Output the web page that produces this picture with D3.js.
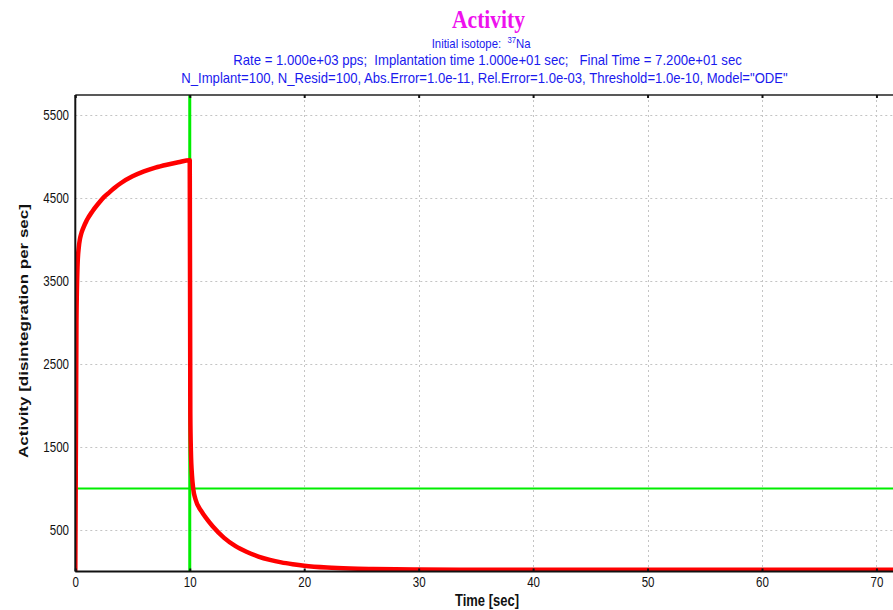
<!DOCTYPE html>
<html>
<head>
<meta charset="utf-8">
<script src="https://cdn.jsdelivr.net/npm/d3@7"></script>
<style>
  body { margin: 0; background: #ffffff; }
  svg { display: block; }
</style>
</head>
<body>
<svg id="chart" width="893" height="610"></svg>
<script>
// Total activity while the beam is on (implantation phase)
const timeOn     = [0, 0.1, 0.2, 0.3, 0.4, 0.5, 0.7, 1.0, 1.5, 2.0, 2.5, 3.0, 3.5, 4.0, 5.0, 6.0, 7.0, 8.0, 9.0, 10.0];
const activityOn = [0, 3000, 3700, 3900, 4000, 4060, 4140, 4230, 4340, 4430, 4510, 4570, 4630, 4680, 4760, 4820, 4865, 4900, 4930, 4955];

// Total activity after the beam is switched off (residual decay)
const timeOff     = [10.05, 10.1, 10.2, 10.3, 10.5, 11, 11.5, 12, 13, 14, 15, 16, 17, 18, 19, 20, 22, 24, 26, 28, 30, 35, 40, 45, 50, 55, 60, 65, 72];
const activityOff = [1900, 1450, 1150, 1000, 870, 730, 630, 545, 405, 305, 235, 180, 140, 110, 88, 70, 48, 36, 30, 26, 24, 22, 21, 21, 21, 20, 20, 20, 20];

// Marker lines: end of implantation and reference activity level
const markerTime = [10];
const markerActivity = [1000];

// Axis ticks
const xTicks = [0, 10, 20, 30, 40, 50, 60, 70];
const yTicks = [500, 1500, 2500, 3500, 4500, 5500];

// Texts
const titleText = "Activity";
const isotopePrefix = "Initial isotope:  ";
const isotopeMass = "37";
const isotopeName = "Na";
const rateLine = "Rate = 1.000e+03 pps;  Implantation time 1.000e+01 sec;   Final Time = 7.200e+01 sec";
const paramLine = "N_Implant=100, N_Resid=100, Abs.Error=1.0e-11, Rel.Error=1.0e-03, Threshold=1.0e-10, Model=\"ODE\"";
const xTitle = "Time [sec]";
const yTitle = "Activity [disintegration per sec]";

const svg = d3.select("#chart");
const plotLeft = 75.3, plotTop = 95, plotBottom = 571.5;
const x = d3.scaleLinear().domain([0, 72]).range([plotLeft, plotLeft + 72 * 11.445]);
const y = d3.scaleLinear().domain([0, 5740]).range([plotBottom, plotTop]);
const plotRight = x.range()[1];

const SANS = "'Liberation Sans', Arial, sans-serif";
const SERIF = "'Liberation Serif', 'Times New Roman', serif";
const NARROW = 0.77;

svg.append("defs").append("clipPath").attr("id", "plotClip")
  .append("rect").attr("x", plotLeft).attr("y", plotTop)
  .attr("width", plotRight - plotLeft).attr("height", plotBottom - plotTop);

// grid
const grid = svg.append("g").attr("stroke", "#c4c4c4").attr("stroke-width", 1).attr("stroke-dasharray", "2,3");
grid.selectAll("line.h").data(yTicks).join("line").attr("class", "h")
  .attr("x1", plotLeft).attr("x2", plotRight)
  .attr("y1", d => Math.round(y(d)) + 0.5).attr("y2", d => Math.round(y(d)) + 0.5);
grid.selectAll("line.v").data(xTicks.filter(d => d > 0)).join("line").attr("class", "v")
  .attr("y1", plotTop).attr("y2", plotBottom)
  .attr("x1", d => Math.round(x(d)) + 0.5).attr("x2", d => Math.round(x(d)) + 0.5);

// green markers
const markers = svg.append("g").attr("clip-path", "url(#plotClip)").attr("stroke", "#00ee00");
markers.selectAll("line.t").data(markerTime).join("line").attr("class", "t")
  .attr("x1", d => x(d)).attr("x2", d => x(d)).attr("y1", plotTop).attr("y2", plotBottom)
  .attr("stroke-width", 3);
markers.selectAll("line.a").data(markerActivity).join("line").attr("class", "a")
  .attr("x1", plotLeft).attr("x2", plotRight).attr("y1", d => y(d)).attr("y2", d => y(d))
  .attr("stroke-width", 2);

// activity curve
const points = timeOn.map((t, i) => [t, activityOn[i]])
  .concat(timeOff.map((t, i) => [t, activityOff[i]]));
svg.append("path")
  .datum(points)
  .attr("clip-path", "url(#plotClip)")
  .attr("fill", "none")
  .attr("stroke", "#ff0000")
  .attr("stroke-width", 4.5)
  .attr("stroke-linejoin", "round")
  .attr("d", d3.line().x(d => x(d[0])).y(d => y(d[1])).curve(d3.curveMonotoneX));

// axes
const xAxis = svg.append("g").attr("transform", `translate(0,${plotBottom})`)
  .call(d3.axisBottom(x).tickValues(xTicks).tickSize(-3).tickFormat(d3.format("d")));
xAxis.select(".domain").attr("stroke", "#111").attr("stroke-width", 2).attr("d", `M${plotLeft},0H${plotRight}`);
xAxis.selectAll(".tick line").attr("stroke", "#111").attr("stroke-width", 2);
xAxis.selectAll("text").attr("y", 0).attr("dy", null)
  .attr("transform", `translate(0,15) scale(${NARROW},1)`)
  .attr("font-family", SANS).attr("font-size", 15).attr("fill", "#111");

const topAxis = svg.append("g").attr("transform", `translate(0,${plotTop})`)
  .call(d3.axisTop(x).tickValues(xTicks).tickSize(-3).tickFormat(""));
topAxis.select(".domain").attr("stroke", "#222").attr("stroke-width", 1.5).attr("d", `M${plotLeft},0H${plotRight}`);
topAxis.selectAll(".tick line").attr("stroke", "#111").attr("stroke-width", 2);

const yAxis = svg.append("g").attr("transform", `translate(${plotLeft},0)`)
  .call(d3.axisLeft(y).tickValues(yTicks).tickSize(0).tickFormat(d3.format("d")));
yAxis.select(".domain").attr("stroke", "#111").attr("stroke-width", 2).attr("d", `M0,${plotTop}V${plotBottom}`);
yAxis.selectAll("text").attr("x", 0)
  .attr("transform", `translate(-6.3,0) scale(${NARROW},1)`)
  .attr("font-family", SANS).attr("font-size", 15).attr("fill", "#111");

// stretch a text horizontally to a given width
function fit(sel, width, tx, ty) {
  const w = sel.node().getBBox().width;
  sel.attr("transform", `translate(${tx},${ty}) scale(${width / w},1)`);
}

// titles
const title = svg.append("text").text(titleText)
  .attr("text-anchor", "middle").attr("font-family", SERIF).attr("font-weight", "bold")
  .attr("font-size", 26).attr("fill", "#ee11ee");
fit(title, 73, 488.5, 28);

const iso = svg.append("text").attr("font-family", SANS).attr("font-size", 12.5).attr("fill", "#1a1aee")
  .style("white-space", "pre");
iso.append("tspan").text(isotopePrefix);
iso.append("tspan").text(isotopeMass).attr("font-size", 8.5).attr("dy", -5);
iso.append("tspan").text(isotopeName).attr("dy", 5);
fit(iso, 99, 431.7, 47.5);

const rate = svg.append("text").text(rateLine)
  .attr("text-anchor", "middle").attr("font-family", SANS).attr("font-size", 14).attr("fill", "#1a1aee")
  .style("white-space", "pre");
fit(rate, 509, 487.5, 65);

const params = svg.append("text").text(paramLine)
  .attr("text-anchor", "middle").attr("font-family", SANS).attr("font-size", 14).attr("fill", "#1a1aee");
fit(params, 607, 484.5, 83);

const xt = svg.append("text").text(xTitle)
  .attr("text-anchor", "middle").attr("font-family", SANS).attr("font-weight", "bold")
  .attr("font-size", 17).attr("fill", "#111");
fit(xt, 64, 487, 606);

svg.append("text").text(yTitle)
  .attr("text-anchor", "middle").attr("font-family", SANS).attr("font-weight", "bold")
  .attr("font-size", 17).attr("fill", "#111")
  .attr("transform", `translate(28,331) scale(0.8,1) rotate(-90)`);
</script>
</body>
</html>
